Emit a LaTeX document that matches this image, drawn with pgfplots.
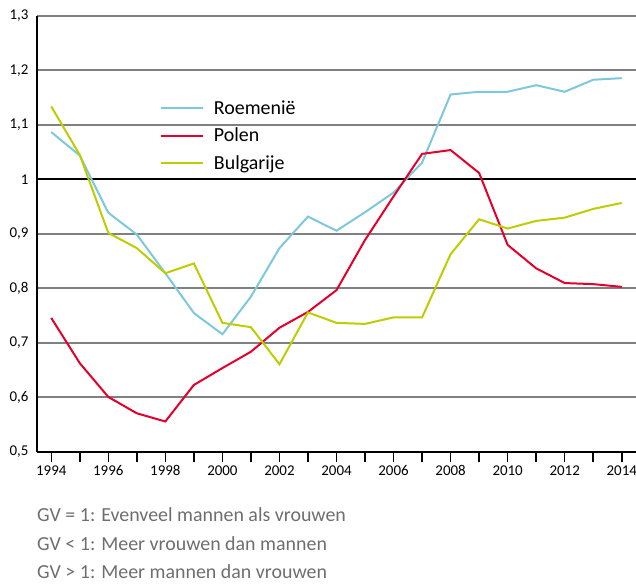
\documentclass[border=0pt]{standalone}
\usepackage{fontspec}
\setmainfont{Carlito}
\usepackage{pgfplots}
\pgfplotsset{compat=1.18}

\definecolor{roemBlue}{RGB}{126,200,222}
\definecolor{polRed}{RGB}{228,0,43}
\definecolor{bulGreen}{RGB}{190,205,0}
\definecolor{gridGray}{RGB}{128,128,128}
\definecolor{noteGray}{RGB}{110,110,110}

\pgfplotstableread{
year roem pol bul
1994 1.087 0.746 1.134
1995 1.044 0.663 1.045
1996 0.939 0.601 0.902
1997 0.899 0.571 0.874
1998 0.828 0.556 0.828
1999 0.755 0.623 0.846
2000 0.716 0.654 0.737
2001 0.785 0.684 0.729
2002 0.874 0.728 0.661
2003 0.932 0.757 0.756
2004 0.906 0.797 0.737
2005 0.940 0.889 0.735
2006 0.976 0.969 0.747
2007 1.031 1.047 0.747
2008 1.156 1.054 0.863
2009 1.161 1.012 0.927
2010 1.161 0.880 0.910
2011 1.173 0.837 0.924
2012 1.161 0.810 0.930
2013 1.183 0.808 0.946
2014 1.186 0.803 0.957
}\gvdata

\begin{document}
\begin{tikzpicture}
\path[use as bounding box] (-37bp,-132bp) rectangle (599bp,452bp);
\begin{axis}[
    scale only axis,
    width=599bp, height=436bp,
    xmin=1993.5, xmax=2014.5,
    ymin=0.5, ymax=1.3,
    axis x line=bottom, axis y line=left,
    axis line style={-, black, line width=2bp},
    xtick={1994,1996,...,2014},
    minor xtick={1995,1997,...,2013},
    xtick style={black, line width=1.5bp},
    tick align=outside,
    major tick length=10bp, minor tick length=10bp,
    ytick={0.5,0.6,0.7,0.8,0.9,1.1,1.2,1.3},
    extra y ticks={1},
    extra y tick style={grid style={black, line width=2bp}},
    ytick style={draw=none},
    ymajorgrids,
    grid style={gridGray, line width=2bp},
    tick label style={font=\fontsize{15}{18}\selectfont},
    /pgf/number format/assume math mode=true,
    xticklabel style={/pgf/number format/1000 sep={}},
    yticklabel style={xshift=5bp, /pgf/number format/.cd, use comma, fixed, precision=1},
    legend cell align=left,
    legend style={at={(axis description cs:0.2,0.815)}, anchor=north west,
        draw=none, fill=none, font=\fontsize{20}{24}\selectfont,
        row sep=8bp,
        /tikz/every odd column/.append style={column sep=8bp}},
    legend image code/.code={\draw[#1, line width=2bp] (0bp,0bp) -- (42bp,0bp);},
    every axis plot/.append style={line width=2bp},
]
\addplot[roemBlue] table[x=year, y=roem] {\gvdata};
\addlegendentry{Roemenië}
\addplot[polRed] table[x=year, y=pol] {\gvdata};
\addlegendentry{Polen}
\addplot[bulGreen] table[x=year, y=bul] {\gvdata};
\addlegendentry{Bulgarije}
\end{axis}
\begin{scope}[every node/.style={anchor=base west, inner sep=0pt, text=noteGray, font=\fontsize{20}{24}\selectfont}]
\node at (0bp,-69bp) {GV = 1: Evenveel mannen als vrouwen};
\node at (0bp,-98bp) {GV < 1: Meer vrouwen dan mannen};
\node at (0bp,-126bp) {GV > 1: Meer mannen dan vrouwen};
\end{scope}
\end{tikzpicture}
\end{document}
